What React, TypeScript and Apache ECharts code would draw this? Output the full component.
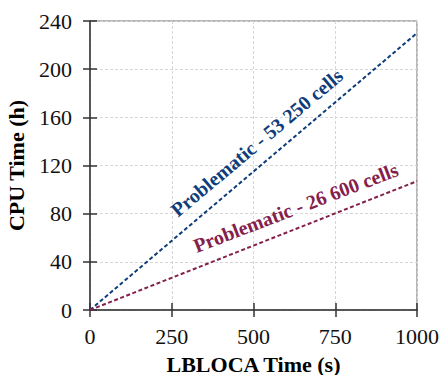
import React, { useEffect, useRef } from "react";
import * as echarts from "echarts";

const xTicks = [0, 250, 500, 750, 1000];
const yTicks = [0, 40, 80, 120, 160, 200, 240];
const seriesNames = ["Problematic - 53 250 cells", "Problematic - 26 600 cells"];
const seriesColors = ["#0f3d7b", "#84204c"];
const blueData: [number, number][] = [[0, 0], [1000, 230]];
const redData: [number, number][] = [[0, 0], [1000, 107]];
// label anchor points (data coords) and rotation
const labelPos: [number, number][] = [[510, 139], [629, 85]];
const labelRot = [40, 21];

const FONT = "Liberation Serif";

export default function App() {
  const ref = useRef<HTMLDivElement>(null);
  useEffect(() => {
    if (!ref.current) return;
    const chart = echarts.init(ref.current, null, { renderer: "svg" });
    const grid = { left: 90, top: 21, right: 23, bottom: 65 };
    const mkSeries = (i: number, data: [number, number][]) => ({
      type: "line",
      name: seriesNames[i],
      data,
      xAxisIndex: 0,
      yAxisIndex: 0,
      showSymbol: false,
      symbol: "none",
      lineStyle: { color: seriesColors[i], width: 2, type: [4, 2.5] },
      markPoint: {
        symbol: "circle",
        symbolSize: 1,
        itemStyle: { color: "rgba(0,0,0,0)" },
        label: {
          show: true,
          position: "inside",
          formatter: seriesNames[i],
          rotate: labelRot[i],
          color: seriesColors[i],
          fontFamily: FONT,
          fontWeight: "bold",
          fontSize: 20,
          align: "center",
          verticalAlign: "middle",
        },
        data: [{ coord: labelPos[i], value: 0 }],
      },
    });
    const tickLabel = {
      fontFamily: FONT,
      fontSize: 22,
      color: "#111",
      formatter: (v: number) => "{t|" + String(v) + "}",
      rich: { t: { fontFamily: FONT, fontSize: 22, color: "#111" } },
    };
    chart.setOption({
      animation: false,
      backgroundColor: "#fff",
      textStyle: { fontFamily: FONT },
      grid: [
        { ...grid, show: true, borderColor: "#6e6e6e", borderWidth: 1, backgroundColor: "transparent", outerBoundsMode: "none" },
        { ...grid, show: false, outerBoundsMode: "none" },
      ],
      xAxis: [
        {
          type: "value",
          gridIndex: 0,
          min: xTicks[0],
          max: xTicks[xTicks.length - 1],
          interval: 250,
          name: "LBLOCA Time (s)",
          nameLocation: "middle",
          nameGap: 43,
          nameTextStyle: { fontFamily: FONT, fontWeight: "bold", fontSize: 22, color: "#000" },
          axisLine: { show: true, lineStyle: { color: "#333", width: 1.5 } },
          axisTick: { show: true, inside: false, length: 7, lineStyle: { color: "#333", width: 1.5 } },
          axisLabel: { ...tickLabel, margin: 15 },
          splitLine: { show: true, lineStyle: { color: "#d6d6d6", type: [3, 2], width: 1 } },
        },
        {
          type: "value",
          gridIndex: 1,
          min: xTicks[0],
          max: xTicks[xTicks.length - 1],
          interval: 250,
          axisLine: { show: false },
          axisTick: { show: true, inside: true, length: 7, lineStyle: { color: "#333", width: 1.5 } },
          axisLabel: { show: false },
          splitLine: { show: false },
        },
      ],
      yAxis: [
        {
          type: "value",
          gridIndex: 0,
          min: yTicks[0],
          max: yTicks[yTicks.length - 1],
          interval: 40,
          name: "CPU Time (h)",
          nameLocation: "middle",
          nameGap: 63,
          nameTextStyle: { fontFamily: FONT, fontWeight: "bold", fontSize: 22, color: "#000" },
          axisLine: { show: true, lineStyle: { color: "#333", width: 1.5 } },
          axisTick: { show: true, inside: false, length: 7, lineStyle: { color: "#333", width: 1.5 } },
          axisLabel: { ...tickLabel, margin: 18 },
          splitLine: { show: true, lineStyle: { color: "#d6d6d6", type: [3, 2], width: 1 } },
        },
        {
          type: "value",
          gridIndex: 1,
          min: yTicks[0],
          max: yTicks[yTicks.length - 1],
          interval: 40,
          axisLine: { show: false },
          axisTick: { show: true, inside: true, length: 7, lineStyle: { color: "#333", width: 1.5 } },
          axisLabel: { show: false },
          splitLine: { show: false },
        },
      ],
      series: [mkSeries(0, blueData), mkSeries(1, redData)],
    });
    return () => chart.dispose();
  }, []);
  return (
    <div
      ref={ref}
      style={{ position: "fixed", left: 0, top: 0, width: 440, height: 375 }}
    />
  );
}
